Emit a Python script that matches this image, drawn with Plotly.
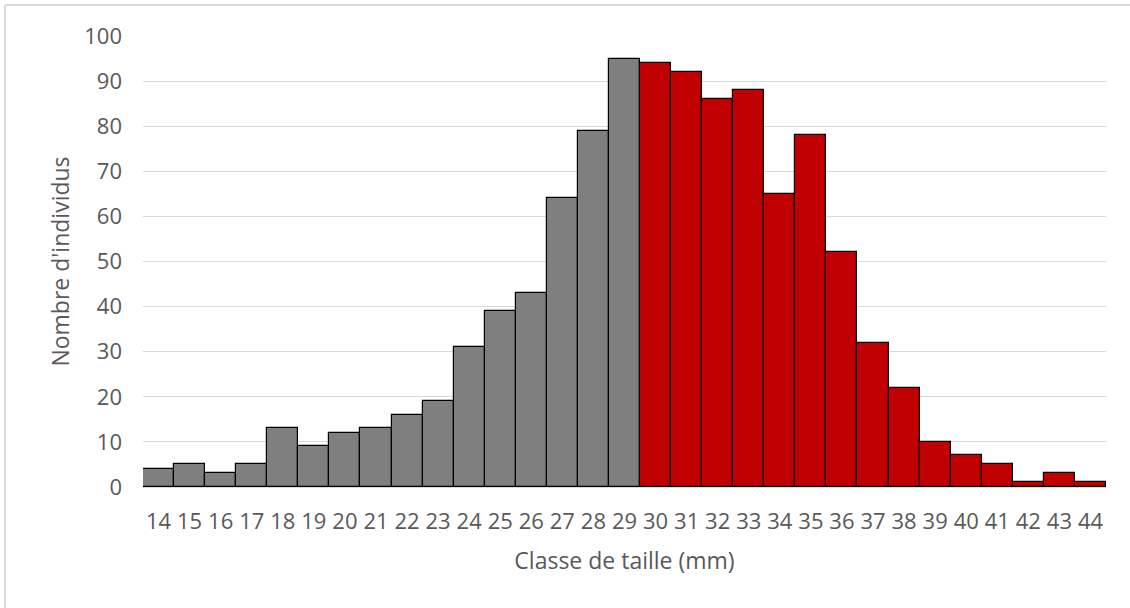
import plotly.graph_objects as go

classes = [str(c) for c in range(14, 45)]
counts = [4, 5, 3, 5, 13, 9, 12, 13, 16, 19, 31, 39, 43, 64, 79, 95,
          94, 92, 86, 88, 65, 78, 52, 32, 22, 10, 7, 5, 1, 3, 1]
split_class = 30  # classes >= 30 in red
y_ticks = list(range(0, 101, 10))

gray_x = [c for c in classes if int(c) < split_class]
gray_y = [v for c, v in zip(classes, counts) if int(c) < split_class]
red_x = [c for c in classes if int(c) >= split_class]
red_y = [v for c, v in zip(classes, counts) if int(c) >= split_class]

font_family = "Open Sans, Liberation Sans, sans-serif"
text_color = "#595959"

fig = go.Figure()
fig.add_trace(go.Bar(x=gray_x, y=gray_y, marker=dict(color="#7f7f7f", line=dict(color="#000000", width=1.2)),
                     showlegend=False, hoverinfo="x+y"))
fig.add_trace(go.Bar(x=red_x, y=red_y, marker=dict(color="#c00000", line=dict(color="#000000", width=1.2)),
                     showlegend=False, hoverinfo="x+y"))

fig.update_layout(
    width=1130, height=608,
    margin=dict(l=143, r=24, t=36, b=121),
    paper_bgcolor="white", plot_bgcolor="white",
    bargap=0, barmode="overlay",
    font=dict(family=font_family, color=text_color, size=22),
    xaxis=dict(
        type="category", categoryorder="array", categoryarray=classes,
        tickfont=dict(size=22, color=text_color),
        showgrid=False, showline=True, linecolor="#d9d9d9", linewidth=1,
        ticks="", ticklabelstandoff=15,
        title=dict(text="Classe de taille (mm)", font=dict(size=23, color=text_color), standoff=18),
    ),
    yaxis=dict(
        range=[0, 100], tickvals=y_ticks,
        tickfont=dict(size=22, color=text_color),
        showgrid=True, gridcolor="#d9d9d9", gridwidth=1,
        zeroline=False, showline=False, ticks="", ticklabelstandoff=20,
        title=dict(text="Nombre d'individus", font=dict(size=23, color=text_color), standoff=8),
    ),
    shapes=[
        dict(type="line", xref="paper", yref="paper", x0=-0.1433, x1=1.2, y0=1.0687, y1=1.0687,
             line=dict(color="#d9d9d9", width=2)),
        dict(type="line", xref="paper", yref="paper", x0=-0.1433, x1=-0.1433, y0=-0.5, y1=1.0687,
             line=dict(color="#d9d9d9", width=2)),
    ],
)

fig.write_html("out.html", config={"displayModeBar": False},
               post_script="document.body.style.margin='0';")
